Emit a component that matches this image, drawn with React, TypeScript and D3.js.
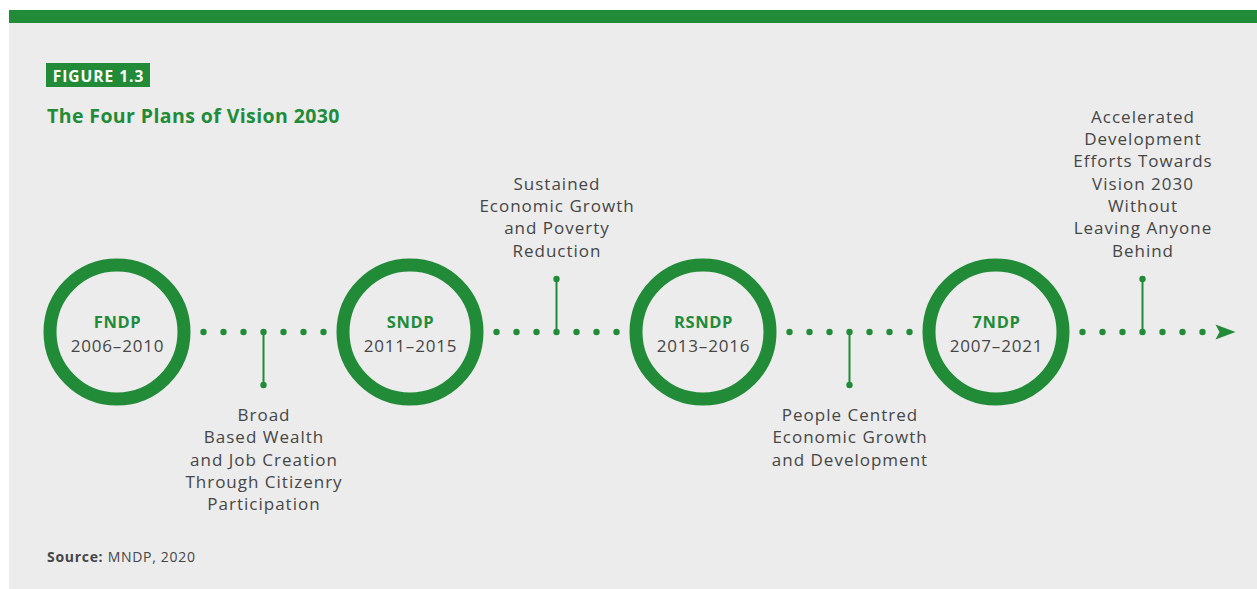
import React from "react";
import * as d3 from "d3";

const plans = ["FNDP", "SNDP", "RSNDP", "7NDP"];
const periods = ["2006–2010", "2011–2015", "2013–2016", "2007–2021"];
const themes: string[][] = [
  ["Broad", "Based Wealth", "and Job Creation", "Through Citizenry", "Participation"],
  ["Sustained", "Economic Growth", "and Poverty", "Reduction"],
  ["People Centred", "Economic Growth", "and Development"],
  ["Accelerated", "Development", "Efforts Towards", "Vision 2030", "Without", "Leaving Anyone", "Behind"],
];
const themeSide = ["below", "above", "below", "above"];
const dotOffsets = [-3, -2, -1, 0, 1, 2, 3];

const GREEN = "#218b38";
const TEXT = "#464646";
const FONT = "'Open Sans', sans-serif";

export default function App() {
  const W = 1257, H = 589;
  const x = d3.scaleLinear().domain([0, 1]).range([117, 410]);
  const cy = 332;
  const r = 67;
  const lineH = 22.3;
  const dotStep = 20 / 293;

  return (
    <svg width={W} height={H} style={{ position: "absolute", left: 0, top: 0 }}>
      <rect x={0} y={0} width={W} height={H} fill="#ffffff" />
      <rect x={9} y={10} width={W - 9} height={H - 10} fill="#ececec" />
      <rect x={9} y={10} width={W - 9} height={13} fill={GREEN} />
      <rect x={46} y={63} width={104} height={24} fill={GREEN} />
      <text x={98.5} y={82} textAnchor="middle" fill="#fff" fontFamily={FONT} fontWeight={700} fontSize={15.5} letterSpacing={1}>
        FIGURE 1.3
      </text>
      <text x={47} y={122.5} fill={GREEN} fontFamily={FONT} fontWeight={700} fontSize={19.5} letterSpacing={0.4}>
        The Four Plans of Vision 2030
      </text>

      {plans.map((p, i) => {
        const mid = i + 0.5;
        const up = themeSide[i] === "above";
        const endY = up ? 279 : 385;
        const lines = themes[i];
        return (
          <g key={p}>
            {dotOffsets.map((o) => (
              <circle key={o} cx={x(mid + o * dotStep)} cy={cy} r={3.2} fill={GREEN} />
            ))}
            <line x1={x(mid)} x2={x(mid)} y1={cy} y2={endY} stroke={GREEN} strokeWidth={2} />
            <circle cx={x(mid)} cy={endY} r={3.2} fill={GREEN} />
            {lines.map((t, k) => {
              const y = up ? 256.5 - (lines.length - 1 - k) * lineH : 421 + k * lineH;
              return (
                <text key={k} x={x(mid) + 0.5} y={y} textAnchor="middle" fill={TEXT} fontFamily={FONT} fontSize={17} letterSpacing={1}>
                  {t}
                </text>
              );
            })}
            <circle cx={x(i)} cy={cy} r={r} fill="none" stroke={GREEN} strokeWidth={13} />
            <text x={x(i) + 0.5} y={327.5} textAnchor="middle" fill={GREEN} fontFamily={FONT} fontWeight={700} fontSize={16.5} letterSpacing={0.6}>
              {p}
            </text>
            <text x={x(i) + 0.5} y={352} textAnchor="middle" fill={TEXT} fontFamily={FONT} fontSize={17} letterSpacing={0.8}>
              {periods[i]}
            </text>
          </g>
        );
      })}
      {(() => {
        const tipX = x(3.5 + 3 * dotStep) + 33;
        const backX = tipX - 20;
        return (
          <path
            d={`M${tipX},${cy} L${backX},${cy - 7.5} L${backX + 4},${cy} L${backX},${cy + 7.5} Z`}
            fill={GREEN}
          />
        );
      })()}

      <text x={47} y={562} fill={TEXT} fontFamily={FONT} fontSize={14} letterSpacing={0.7}>
        <tspan fontWeight={700}>Source:</tspan> MNDP, 2020
      </text>
    </svg>
  );
}
